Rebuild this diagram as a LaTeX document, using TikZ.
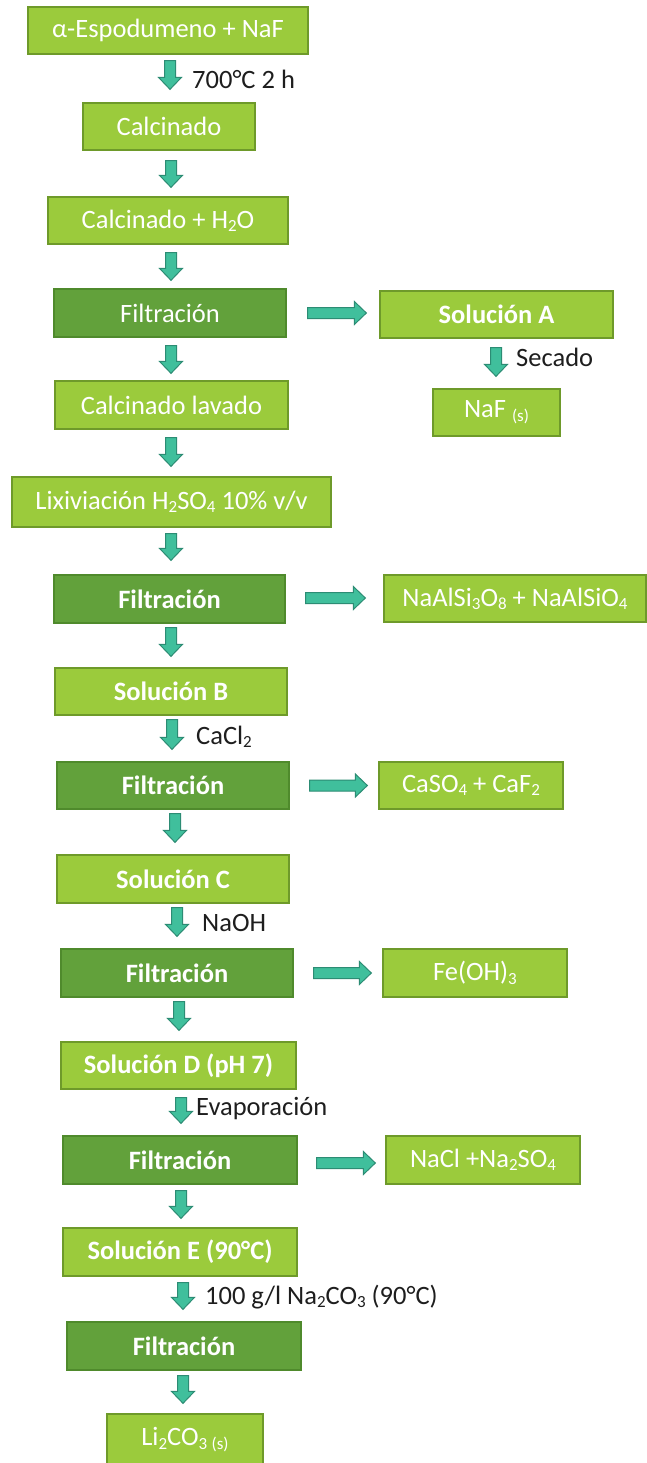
\documentclass[tikz,border=0pt]{standalone}
\usepackage{fontspec}
\setmainfont{Carlito}
\usetikzlibrary{calc}
\definecolor{lgreen}{HTML}{9BCB3C}
\definecolor{dgreen}{HTML}{62A13B}
\definecolor{lborder}{HTML}{6E9A2A}
\definecolor{dborder}{HTML}{4F8A2C}
\definecolor{tealfill}{HTML}{40BF9C}
\definecolor{tealline}{HTML}{2C8C74}
\definecolor{labeltext}{HTML}{1E1E1E}
\newcommand{\bigfont}{\fontsize{26.5}{30}\selectfont}
\newcommand{\sbs}[1]{\raisebox{-0.12em}{\fontsize{17}{17}\selectfont #1}}
\newcommand{\stt}[1]{\raisebox{-0.15em}{\fontsize{17}{17}\selectfont #1}}
\tikzset{
 lbox/.style={draw=lborder, line width=1.3pt, fill=lgreen, text=white, font=\bigfont, minimum height=47pt, inner sep=0pt},
 dbox/.style={lbox, draw=dborder, fill=dgreen},
 bbold/.style={font=\bigfont\bfseries},
 steplabel/.style={anchor=west, text=labeltext, font=\bigfont, inner sep=0pt},
 blockarrow/.style={fill=tealfill, draw=tealline, line width=1pt, line join=miter},
}
% vertical block arrow: from node, to node, x offset, top gap, bottom gap
\newcommand{\varr}[5]{%
  \draw[blockarrow] let \p1=($(#1.south)+(#3,-#4)$), \p2=($(#2.north)+(0,#5)$) in
  (\x1-5.5pt,\y1) -- (\x1+5.5pt,\y1) -- (\x1+5.5pt,\y2+12pt) -- (\x1+11.5pt,\y2+12pt) -- (\x1,\y2)
  -- (\x1-11.5pt,\y2+12pt) -- (\x1-5.5pt,\y2+12pt) -- cycle;}
% horizontal block arrow: from node, to node, left gap, right gap, y offset
\newcommand{\harr}[5]{%
  \draw[blockarrow] let \p1=($(#1.east)+(#3,#5)$), \p2=($(#2.west)+(-#4,0)$) in
  (\x1,\y1+5.5pt) -- (\x2-12pt,\y1+5.5pt) -- (\x2-12pt,\y1+11.5pt) -- (\x2,\y1)
  -- (\x2-12pt,\y1-11.5pt) -- (\x2-12pt,\y1-5.5pt) -- (\x1,\y1-5.5pt) -- cycle;}
\begin{document}
\begin{tikzpicture}[x=1pt,y=1pt]
\clip (0,0) rectangle (647,-1463);
\fill[white] (0,0) rectangle (647,-1463);
% main column
\node[lbox, minimum width=280pt] (esp) at (168,-30.5) {α-Espodumeno + NaF};
\node[lbox, minimum width=172pt] (calc) at (169,-126.5) {Calcinado};
\node[lbox, minimum width=240pt] (calch) at (168,-220.5) {Calcinado + H\sbs{2}O};
\node[dbox, minimum width=232pt, minimum height=48pt] (filt1) at (170,-313) {Filtración};
\node[lbox, minimum width=233pt, minimum height=48pt] (lav) at (171.5,-405) {Calcinado lavado};
\node[lbox, minimum width=319pt, minimum height=50pt] (lix) at (171.5,-502) {Lixiviación H\sbs{2}SO\sbs{4} 10\% v/v};
\node[dbox, bbold, minimum width=231pt, minimum height=48pt] (filt2) at (169.5,-599) {Filtración};
\node[lbox, bbold, minimum width=232pt] (solB) at (171,-691.5) {Solución B};
\node[dbox, bbold, minimum width=232pt] (filt3) at (173,-785.5) {Filtración};
\node[lbox, bbold, minimum width=232pt, minimum height=48pt] (solC) at (173,-879) {Solución C};
\node[dbox, bbold, minimum width=232pt, minimum height=48pt] (filt4) at (177,-973) {Filtración};
\node[lbox, bbold, minimum width=235pt] (solD) at (178.5,-1065.5) {Solución D (pH 7)};
\node[dbox, bbold, minimum width=234pt, minimum height=48pt] (filt5) at (180,-1160) {Filtración};
\node[lbox, bbold, minimum width=234pt, minimum height=48pt] (solE) at (180,-1252) {Solución E (90°C)};
\node[dbox, bbold, minimum width=234pt, minimum height=48pt] (filt6) at (184,-1346) {Filtración};
\node[lbox, minimum width=156pt, minimum height=52pt] (li) at (185,-1440) {Li\sbs{2}CO\sbs{3}\,\stt{(s)}};
% side column
\node[lbox, bbold, minimum width=233pt] (solA) at (496.5,-314.5) {Solución A};
\node[lbox, minimum width=127pt] (naf) at (496.5,-412.5) {NaF \stt{(s)}};
\node[lbox, minimum width=262pt] (naal) at (515,-598.5) {NaAlSi\sbs{3}O\sbs{8} + NaAlSiO\sbs{4}};
\node[lbox, minimum width=184pt] (caso) at (471,-785.5) {CaSO\sbs{4} + CaF\sbs{2}};
\node[lbox, minimum width=184pt, minimum height=48pt] (feoh) at (475,-973) {Fe(OH)\sbs{3}};
\node[lbox, minimum width=194pt, minimum height=48pt] (nacl) at (483,-1160) {NaCl +Na\sbs{2}SO\sbs{4}};
% labels
\node[steplabel] (l1) at (192,-79) {700°C 2 h};
\node[steplabel] (l2) at (516,-357) {Secado};
\node[steplabel] (l3) at (196,-737) {CaCl\sbs{2}};
\node[steplabel] (l4) at (202,-923) {NaOH};
\node[steplabel] (l5) at (196,-1109) {Evaporación};
\node[steplabel] (l6) at (205,-1297) {100 g/l Na\sbs{2}CO\sbs{3} (90°C)};
% vertical arrows
\varr{esp}{calc}{2}{6}{13}
\varr{calc}{calch}{2}{10}{9}
\varr{calch}{filt1}{3}{8}{8}
\varr{filt1}{lav}{1}{8}{7}
\varr{lav}{lix}{-0.5}{8}{10}
\varr{lix}{filt2}{-0.5}{6}{14}
\varr{filt2}{solB}{1.5}{4}{11}
\varr{solB}{filt3}{1}{4}{12}
\varr{filt3}{solC}{2}{4}{12}
\varr{solC}{filt4}{4}{4}{12}
\varr{filt4}{solD}{2}{4}{11}
\varr{solD}{filt5}{2.5}{8}{12}
\varr{filt5}{solE}{1}{6}{9}
\varr{solE}{filt6}{3}{6}{12}
\varr{filt6}{li}{-1}{5}{10}
\varr{solA}{naf}{-0.5}{9}{12}
% horizontal arrows
\harr{filt1}{solA}{21}{13}{0}
\harr{filt2}{naal}{20}{18}{1}
\harr{filt3}{caso}{20}{11}{0}
\harr{filt4}{feoh}{20}{11}{0}
\harr{filt5}{nacl}{19}{10}{-3}
\end{tikzpicture}
\end{document}
